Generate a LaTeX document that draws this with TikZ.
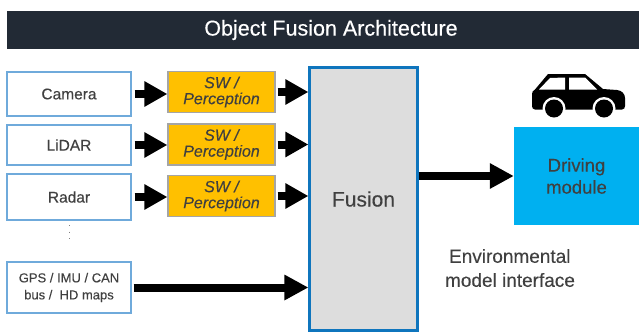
\documentclass[tikz,border=0pt]{standalone}
\usepackage{fontspec}
\setmainfont[FakeBold=0.25]{Liberation Sans}
\usepackage{tikz}
\usetikzlibrary{arrows.meta,positioning}
\definecolor{titlebar}{HTML}{222A35}
\definecolor{sensorline}{HTML}{6FAADB}
\definecolor{swfill}{HTML}{FFC000}
\definecolor{swline}{HTML}{A5A5A5}
\definecolor{fusionfill}{HTML}{DDDDDD}
\definecolor{fusionline}{HTML}{0F75BD}
\definecolor{drivingfill}{HTML}{00B0F0}
\definecolor{labeltext}{HTML}{404040}
\tikzset{sensor/.style={draw=sensorline, line width=1.4pt, fill=white, text=labeltext, align=center, minimum width=124pt, inner sep=0pt, font=\fontsize{15.5}{17}\selectfont}}
\tikzset{swbox/.style={draw=swline, line width=1.2pt, fill=swfill, text=labeltext, align=center, minimum width=107pt, minimum height=41pt, inner sep=0pt, font=\fontsize{16}{16}\selectfont\itshape}}
\tikzset{shortline/.style={draw, line width=8pt, -{Triangle[length=23pt,width=24pt]}}}
\tikzset{longline/.style={draw, line width=8pt, -{Triangle[length=24pt,width=24pt]}}}
\begin{document}
\begin{tikzpicture}[x=1pt,y=-1pt]
	\useasboundingbox (0,0) rectangle (639,333);
	\node [fill=titlebar, text=white, minimum width=632pt, minimum height=38pt, inner sep=0pt, font=\fontsize{21.5}{24}\selectfont] (title) at (323,30) {\hspace*{16pt}Object Fusion Architecture};
	%
	\node [sensor, minimum height=44pt] (camera) at (69,94)  {Camera};
	\node [sensor, minimum height=40pt] (lidar)  at (69,145) {LiDAR};
	\node [sensor, minimum height=46pt] (radar)  at (69,197) {Radar};
	\node [sensor, minimum height=51pt, font=\fontsize{13}{17}\selectfont] (gps) at (69,287.5) {GPS / IMU / CAN\\bus /\ \ HD maps};
	\coordinate (dotstop) at (69,225);
	\coordinate (dotsend) at (69,239);
	\draw [gray, line width=0.9pt, dash pattern=on 1pt off 5.5pt] (dotstop) -- (dotsend);
	%
	\node [swbox] (sw1) at (221.5,92)  {SW /\\Perception};
	\node [swbox] (sw2) at (221.5,144.5) {SW /\\Perception};
	\node [swbox] (sw3) at (221.5,196) {SW /\\Perception};
	%
	\node [draw=fusionline, line width=2.2pt, fill=fusionfill, text=labeltext, minimum width=108pt, minimum height=263pt, inner sep=0pt, font=\fontsize{21}{24}\selectfont] (fusion) at (363.5,199) {Fusion};
	\node [fill=drivingfill, text=labeltext, align=center, minimum width=125pt, minimum height=98pt, inner sep=0pt, font=\fontsize{18.5}{22}\selectfont] (driving) at (576.5,176) {Driving\\module};
	\node [text=labeltext, align=left, inner sep=0pt, font=\fontsize{19}{24}\selectfont] (envlabel) at (510,268) {\hspace*{4pt}Environmental\\model interface};
	%
	\path [shortline] (camera.east) ++(3,0) coordinate (c1) -- (c1 -| sw1.west);
	\path [shortline] (lidar.east) ++(3,0) coordinate (c2) -- (c2 -| sw2.west);
	\path [shortline] (radar.east) ++(3,0) coordinate (c3) -- (c3 -| sw3.west);
	\path [shortline] (sw1.east) ++(2,0) coordinate (c4) -- (c4 -| fusion.west);
	\path [shortline] (sw2.east) ++(2,0) coordinate (c5) -- (c5 -| fusion.west);
	\path [shortline] (sw3.east) ++(2,0) coordinate (c6) -- (c6 -| fusion.west);
	\path [longline] (gps.east) ++(2,0) coordinate (c7) -- (c7 -| fusion.west);
	\path [longline] (fusion.east |- driving.west) coordinate (c8) -- (driving.west);
	%
	\fill (548,74) -- (585,74) -- (603,89) -- (617,90) .. controls (622,90.5) and (625,94) .. (625,98) -- (625,106) .. controls (625,108) and (624,109.5) .. (622,109.5) -- (535,109.5) .. controls (533,109.5) and (532,108) .. (532,106) -- (532,94) .. controls (532,92) and (533,90.5) .. (535,89.5) -- cycle;
	\fill [white] (539,89.5) -- (550,78) -- (565,77.5) -- (565,89.5) -- cycle;
	\fill [white] (569,77.5) -- (585,77.5) -- (597,89.5) -- (569,89.5) -- cycle;
	\foreach \wheelx in {554,604} {
		\fill [white] (\wheelx,108.5) circle (11.5);
		\fill (\wheelx,108.5) circle (9);
	}
\end{tikzpicture}
\end{document}
